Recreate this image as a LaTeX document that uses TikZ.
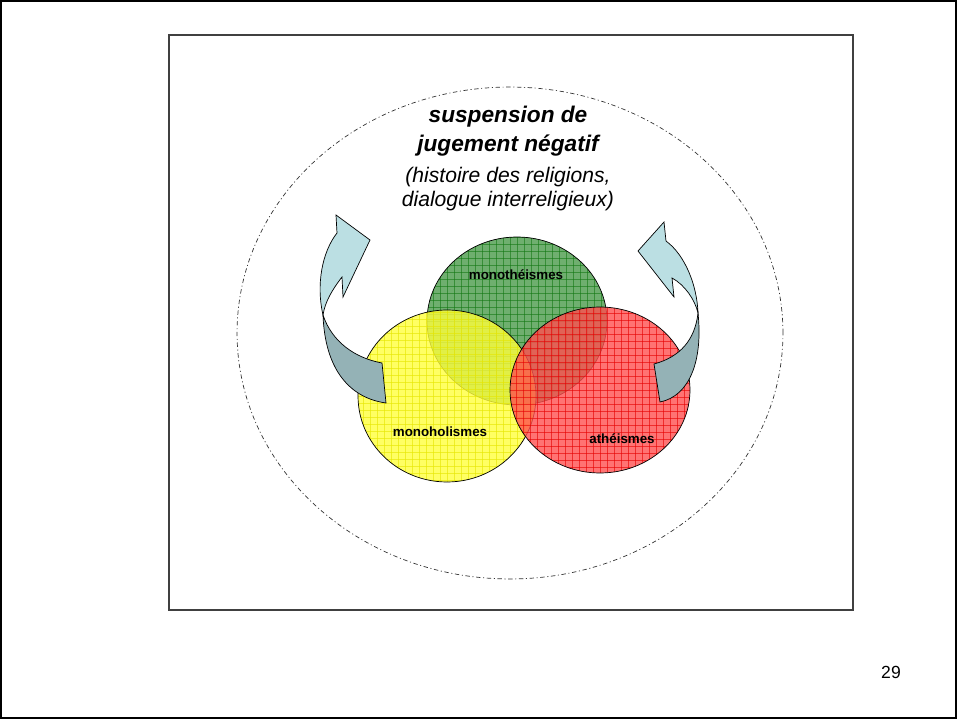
\documentclass[tikz,border=0pt]{standalone}
\usepackage{fontspec}
\setmainfont{Liberation Sans}
\usetikzlibrary{positioning,shapes.geometric}

\definecolor{arrowlight}{RGB}{187,223,227}
\definecolor{arrowdark}{RGB}{148,178,182}
\definecolor{monofill}{RGB}{75,155,75}
\definecolor{monogrid}{RGB}{20,120,20}
\definecolor{holifill}{RGB}{255,255,60}
\definecolor{holigrid}{RGB}{230,230,0}
\definecolor{athefill}{RGB}{255,80,80}
\definecolor{athegrid}{RGB}{230,0,0}

\begin{document}
\begin{tikzpicture}[x=0.02cm,y=-0.02cm,
					vennset/.style 2 args={ellipse,
					draw=black,
					thin,
					fill=#1,
					fill opacity=.8,
					path picture={
						\foreach \d in {-98,-91,...,98}{
							\draw[#2, line width=.35pt, draw opacity=.6]
							([xshift=\d*0.02cm]path picture bounding box.center) ++(0,-110) -- ++(0,220);
							\draw[#2, line width=.35pt, draw opacity=.6]
							([yshift=\d*0.02cm]path picture bounding box.center) ++(-110,0) -- ++(220,0);
						}
					}},
					arrowfront/.style={draw=black, thin, fill=arrowlight},
					arrowback/.style={draw=black, thin, fill=arrowdark},
					setlabel/.style={font=\fontsize{7.6}{9}\selectfont\bfseries}
					]

% page and frame
\useasboundingbox (0,0) rectangle (957,719);
\draw[line width=1pt] (0.9,0.9) rectangle (956.1,718.1);
\draw[black!75, line width=.6pt] (169,35) rectangle (853,610);

% the outer cloud
\node[ellipse, draw=black!80, line width=.4pt,
      dash pattern=on 2.5pt off 1.5pt on .6pt off 1.5pt,
      minimum width=10.92cm, minimum height=9.84cm] (cloud) at (510,333) {};

\node (susp) [align=center, font=\fontsize{12.9}{16.4}\selectfont\bfseries\itshape] at (508,131)
	{suspension de\\jugement négatif};
\node (hist) [below=-0.8pt of susp, align=center, font=\fontsize{12}{13.6}\selectfont\itshape]
	{(histoire des religions,\\dialogue interreligieux)};

% the three sets
\node[vennset={monofill}{monogrid}, minimum width=3.6cm, minimum height=3.36cm] (mono) at (517,321) {};
\node[vennset={holifill}{holigrid}, minimum width=3.56cm, minimum height=3.44cm] (holi) at (447,396) {};
\node[vennset={athefill}{athegrid}, minimum width=3.6cm, minimum height=3.32cm] (athe) at (600,390) {};

\node[setlabel] (monolab) at (516,275) {monothéismes};
\node[setlabel] (holilab) at (440,432) {monoholismes};
\node[setlabel] (athelab) at (622,439) {athéismes};

% curved arrows
\draw[arrowback] (323,315) .. controls (325,370) and (350,398) .. (386,403) -- (382,363)
	.. controls (355,358) and (332,342) .. cycle;
\draw[arrowfront] (323,315) .. controls (316,285) and (322,252) .. (337,233) -- (336,215) -- (370,240)
	-- (343,297) -- (342,277) .. controls (332,290) and (325,302) .. cycle;

\draw[arrowback] (698,313) .. controls (703,360) and (690,396) .. (660,402) -- (654,364)
	.. controls (680,357) and (695,340) .. cycle;
\draw[arrowfront] (698,313) .. controls (697,285) and (685,255) .. (666,241) -- (664,222) -- (638,251)
	-- (674,297) -- (672,278) .. controls (685,285) and (695,300) .. cycle;

\node (pagenum) [font=\fontsize{10}{12}\selectfont] at (891,672) {29};

\end{tikzpicture}
\end{document}
